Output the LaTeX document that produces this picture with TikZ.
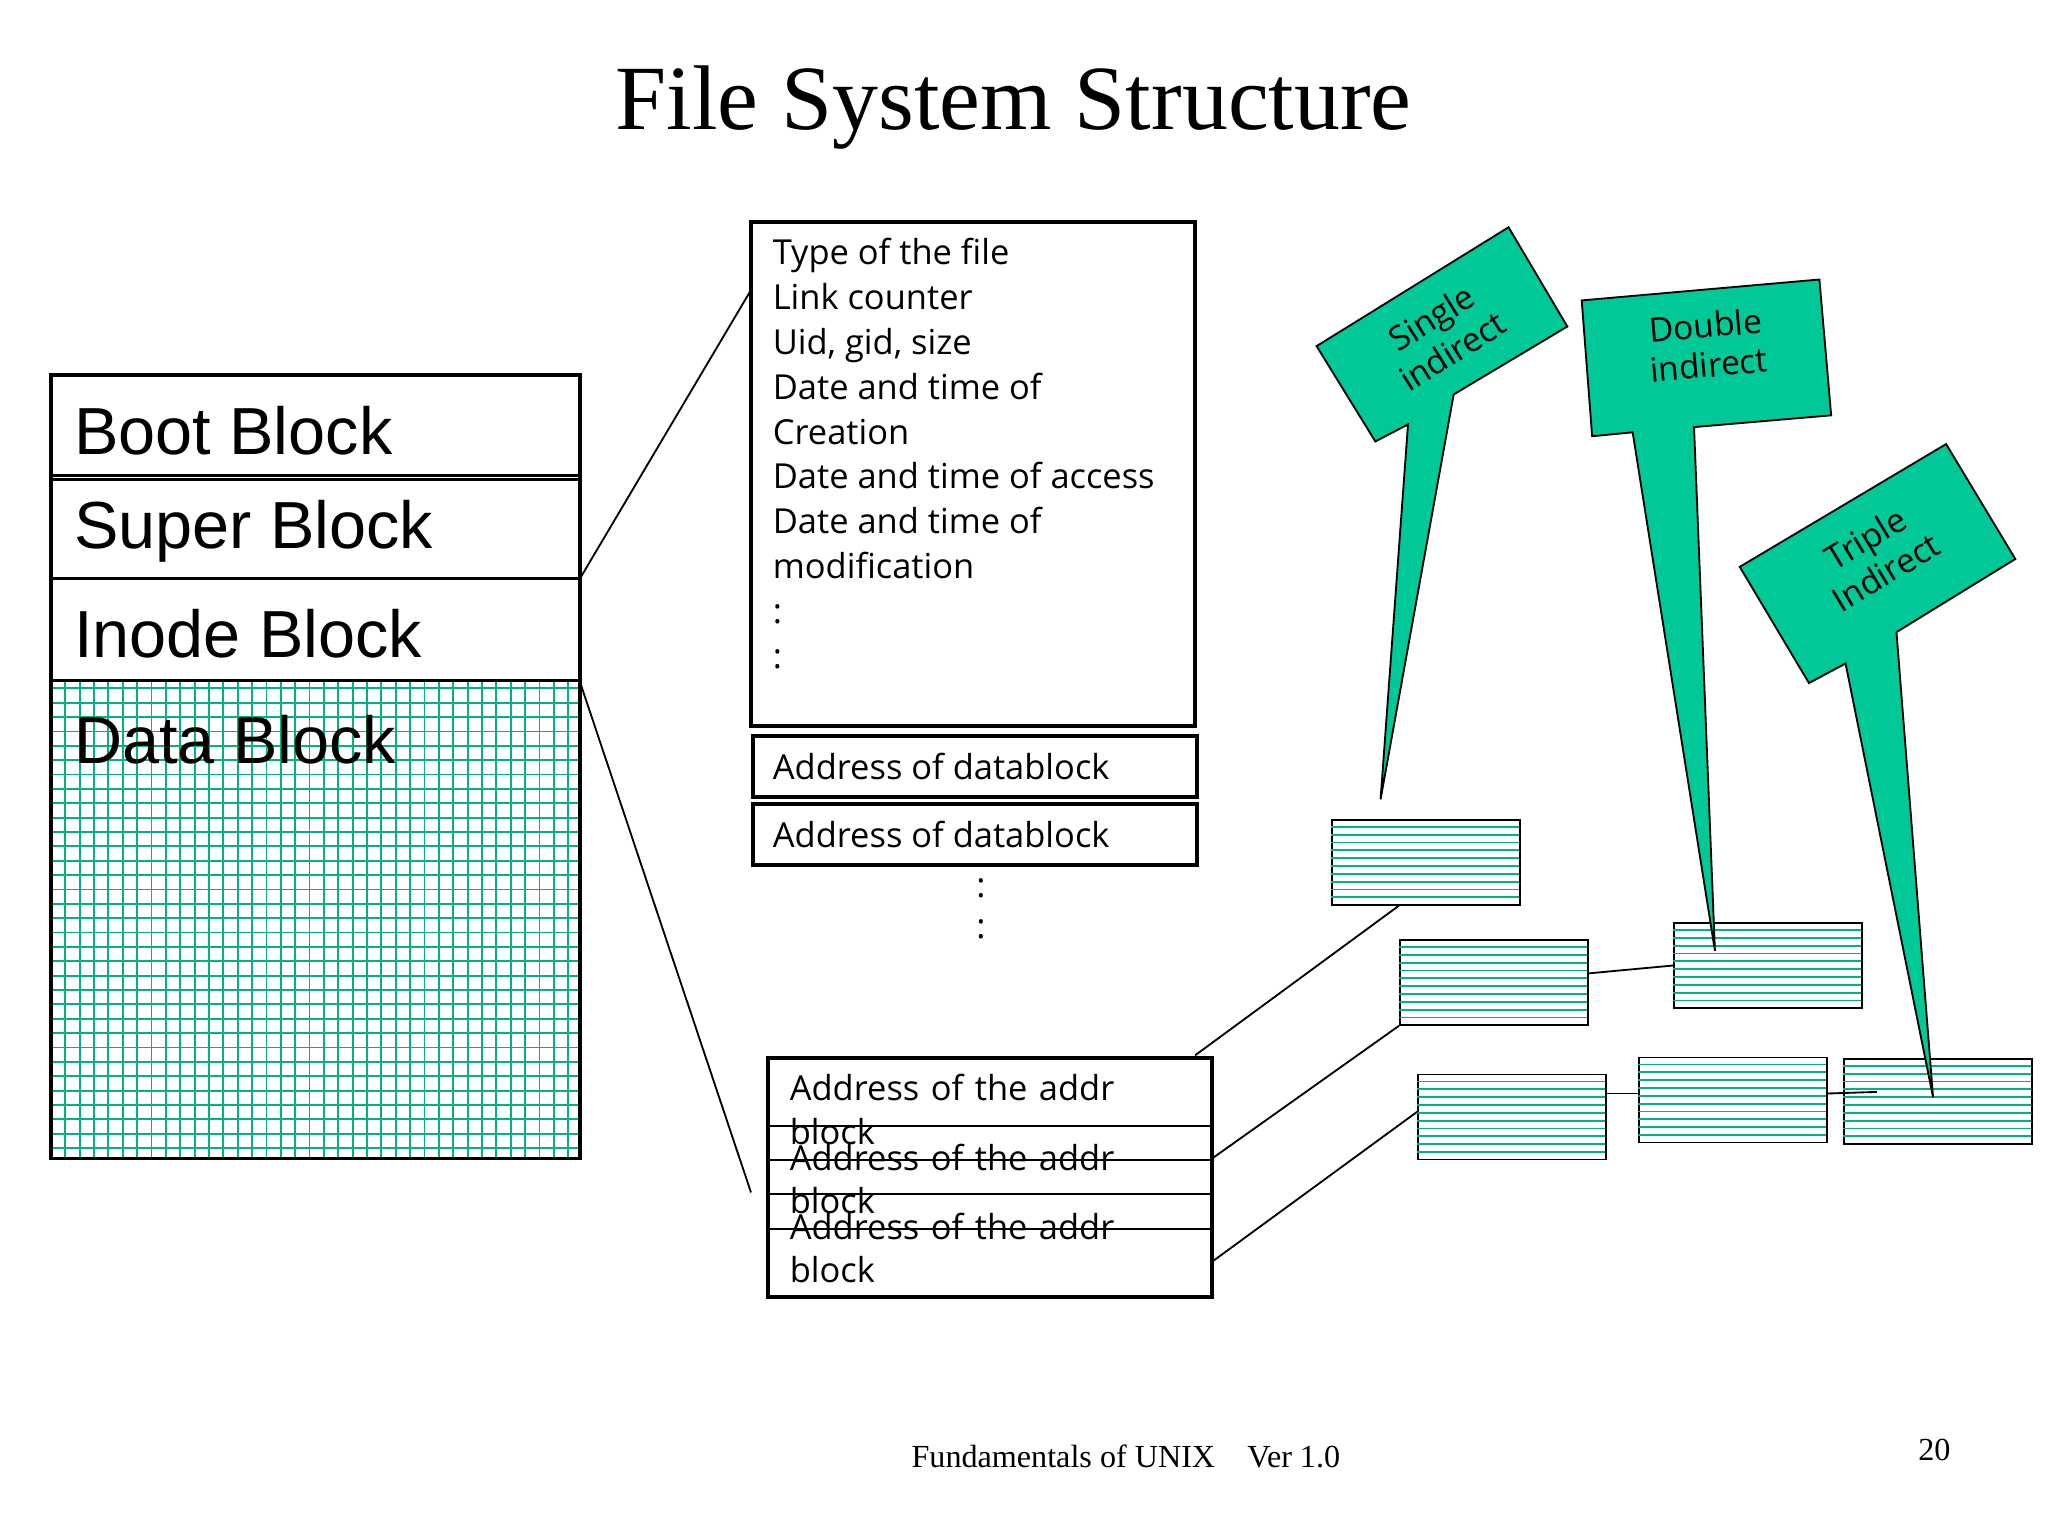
\documentclass[tikz,border=0pt]{standalone}
\usepackage{fontspec}
\setmainfont{Liberation Serif}
\newfontfamily\txtfont{Open Sans}
\newfontfamily\blkfont{Liberation Sans}
\usetikzlibrary{calc,positioning}
\definecolor{grid}{RGB}{0,180,130}
\definecolor{callfill}{RGB}{0,200,150}
\tikzset{
  box/.style={draw,thick,minimum width=3.4cm,minimum height=0.47cm,inner sep=0pt},
  lbl/.style={font=\txtfont\fontsize{7.5}{9.4}\selectfont,anchor=north west,align=left,inner sep=0pt},
  blk/.style={font=\blkfont\fontsize{14.5}{16}\selectfont,anchor=west,inner sep=0pt},
  call/.style={draw,fill=callfill,thin},
  ctxt/.style={font=\txtfont\fontsize{7.3}{8.6}\selectfont,align=center},
  stripe/.style={draw,minimum width=1.44cm,minimum height=0.65cm,inner sep=0pt}
}
\begin{document}
\begin{tikzpicture}[x=0.01cm,y=-0.01cm]
\useasboundingbox (0,0) rectangle (1568,1176);
\node[font=\fontsize{20}{24}\selectfont] (title) at (776,82) {File System Structure};
\node[font=\fontsize{7}{8}\selectfont] (foot) at (862,1115) {Fundamentals of UNIX\quad Ver 1.0};
\node[font=\fontsize{7}{8}\selectfont] (page) at (1481,1110) {20};

% disk layout
\foreach \y in {527,538,...,887} \draw[grid,thin] (40,\y) -- (444,\y);
\foreach \x in {50,61,...,444} \draw[grid,thin] (\x,522) -- (\x,887);
\draw[thick] (39,287) rectangle (444,887);
\foreach \y in {364,367,443,521} \draw[thick] (39,\y) -- (444,\y);
\node[blk] (boot) at (56,330) {Boot Block};
\node[blk] (super) at (56,407) {Super Block};
\node[blk] (inode) at (56,485) {Inode Block};
\node[blk] (data) at (56,566) {Data Block};
\coordinate (ia) at (444,443);
\coordinate (ib) at (444,522);

% inode
\draw[thick] (575,170) rectangle (915,556);
\node[lbl,font=\txtfont\fontsize{7.5}{9.75}\selectfont] (info) at (591,182) {Type of the file\\Link counter\\Uid, gid, size\\Date and time of\\Creation\\Date and time of access\\Date and time of\\modification\\:\\:};
\node[box,anchor=north west] (d1) at (575,562) {};
\node[box,anchor=north west] (d2) at (575,614) {};
\node[lbl,anchor=west] at ($(d1.west)+(16,0)$) {Address of datablock};
\node[lbl,anchor=west] at ($(d2.west)+(16,0)$) {Address of datablock};
\node[font=\txtfont\fontsize{7.5}{9}\selectfont,align=center] (dots) at (751,696) {:\\:};
\draw (ia) -- (575,222);
\draw (ib) -- (575,913);

% address blocks
\draw[thick] (588,810) rectangle (928,993);
\foreach \y in {862,888,914,941} \draw (588,\y) -- (928,\y);
\node[lbl,text width=2.75cm] (a1) at (604,822) {Address of the addr block};
\node[lbl,text width=2.75cm] (a2) at (604,875) {Address of the addr block};
\node[lbl,text width=2.75cm] (a3) at (604,928) {Address of the addr block};

% striped blocks
\foreach \n/\x/\y in {s1/1019/627,s2/1071/719,s3/1281/706,s4/1085/822,s5/1254/809,s6/1411/810}{
  \node[stripe,anchor=north west] (\n) at (\x,\y) {};
  \foreach \k in {6,12,...,60} \draw[grid] (\x,\y+\k) -- (\x+144,\y+\k);
}
\draw (915,808) -- ($(s1.south west)+(52,0)$);
\draw (928,887) -- (s2.south west);
\draw (928,966) -- ($(s4.west)+(0,-4)$);
\draw ($(s2.east)+(0,-7)$) -- ($(s3.west)+(0,0)$);
\draw ($(s4.east)+(0,-18)$) -- ($(s5.west)+(0,-5)$);
\draw ($(s5.east)+(0,-5)$) -- (1437,836);

% callouts
\draw[call] (1008,265) -- (1155,174) -- (1200,250) -- (1113,302) -- (1057,612) -- (1078,325) -- (1053,338) -- cycle;
\draw[call] (1211,230) -- (1393,214) -- (1402,318) -- (1297,327) -- (1313,728) -- (1250,331) -- (1219,334) -- cycle;
\draw[call] (1332,434) -- (1490,340) -- (1543,428) -- (1452,484) -- (1480,840) -- (1413,508) -- (1385,523) -- cycle;
\node[ctxt,rotate=32] (single) at (1104,256) {Single\\indirect};
\node[ctxt,rotate=5] (double) at (1307,264) {Double\\indirect};
\node[ctxt,rotate=31] (triple) at (1436,425) {Triple\\Indirect};
\end{tikzpicture}
\end{document}
